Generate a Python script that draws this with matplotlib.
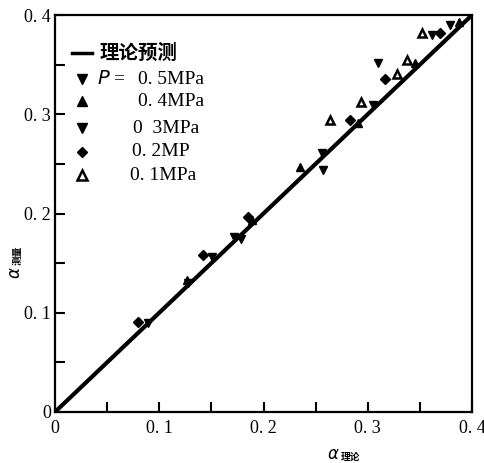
import matplotlib
matplotlib.use("Agg")
import matplotlib.pyplot as plt
from matplotlib.ticker import MultipleLocator, FixedLocator

plt.rcParams['font.family'] = ['Liberation Serif', 'Noto Sans CJK SC', 'DejaVu Sans']

# theory line
line_x = [0.0, 0.4]
line_y = [0.0, 0.4]

# measured vs theoretical, per pressure
p05_x = [0.089, 0.128, 0.172, 0.256, 0.310, 0.379]
p05_y = [0.090, 0.130, 0.176, 0.261, 0.352, 0.390]
p04_x = [0.127, 0.189, 0.235, 0.291, 0.345, 0.388]
p04_y = [0.133, 0.193, 0.247, 0.291, 0.352, 0.393]
p03_x = [0.151, 0.178, 0.257, 0.305, 0.362]
p03_y = [0.156, 0.174, 0.244, 0.309, 0.380]
p02_x = [0.080, 0.142, 0.185, 0.283, 0.317, 0.369]
p02_y = [0.091, 0.158, 0.196, 0.294, 0.336, 0.382]
p01_x = [0.264, 0.294, 0.338, 0.352, 0.328]
p01_y = [0.294, 0.312, 0.355, 0.382, 0.341]

xticks = [0, 0.1, 0.2, 0.3, 0.4]
xticklabels = ["0", "0. 1", "0. 2", "0. 3", "0. 4"]
yticklabels = ["0", "0. 1", "0. 2", "0. 3", "0. 4"]

legend_labels = ["理论预测", "0. 5MPa", "0. 4MPa", "0  3MPa", "0. 2MP", "0. 1MPa"]

fig = plt.figure(figsize=(4.85, 4.63), dpi=100)
W, H = 485, 463
L, R, T, B = 55, 472, 15, 412
ax = fig.add_axes([L / W, 1 - B / H, (R - L) / W, (B - T) / H])

ax.plot(line_x, line_y, color='black', lw=3, solid_capstyle='round', zorder=2)

ms = 6
series = [
    (p05_x, p05_y, dict(marker='v', mfc='black')),
    (p04_x, p04_y, dict(marker='^', mfc='black')),
    (p03_x, p03_y, dict(marker='v', mfc='black')),
    (p02_x, p02_y, dict(marker='D', mfc='black', ms=5)),
    (p01_x, p01_y, dict(marker='^', mfc='white', mew=1.8, ms=5.5)),
]
for xs, ys, kw in series:
    opts = dict(ls='none', color='black', mec='black', ms=ms, zorder=3)
    opts.update(kw)
    ax.plot(xs, ys, **opts)

ax.set_xlim(0, 0.4)
ax.set_ylim(0, 0.4)
ax.xaxis.set_major_locator(FixedLocator(xticks))
ax.yaxis.set_major_locator(FixedLocator(xticks))
ax.xaxis.set_minor_locator(MultipleLocator(0.05))
ax.yaxis.set_minor_locator(MultipleLocator(0.05))
ax.set_xticklabels(xticklabels, fontsize=13)
ax.set_yticklabels(yticklabels, fontsize=13)
ax.tick_params(which='both', direction='in', length=7, width=1.5,
               top=False, right=False)
ax.tick_params(axis='x', pad=6)
ax.tick_params(axis='y', pad=3)
for s in ax.spines.values():
    s.set_linewidth(1.6)

# axis labels
fig.text(340 / W, 1 - 455 / H, r"$\alpha$", fontsize=12, ha='right', va='center')
fig.text(341 / W, 1 - 457 / H, "理论", fontsize=7, fontweight='bold', ha='left', va='center',
         family=['Noto Sans CJK SC'])
fig.text(16 / W, 1 - 266 / H, r"$\alpha$", fontsize=12, ha='center', va='top', rotation=90)
fig.text(18 / W, 1 - 265 / H, "测量", fontsize=7, fontweight='bold', ha='center', va='bottom',
         rotation=90, family=['Noto Sans CJK SC'])

# legend (manual)
def fx(px):
    return px / W
def fy(py):
    return 1 - py / H

fig.add_artist(plt.Line2D([fx(72), fx(92)], [fy(53), fy(53)], color='black', lw=2.5))
fig.text(fx(100), fy(53), legend_labels[0], fontsize=14, fontweight='bold',
         va='center', ha='left', family=['Noto Sans CJK SC'])
rows = [79, 101, 128, 152, 175]
markers = [dict(marker='v', mfc='black'), dict(marker='^', mfc='black'),
           dict(marker='v', mfc='black'), dict(marker='D', mfc='black', ms=5),
           dict(marker='^', mfc='white', mew=1.8)]
text_x = [138, 138, 133, 132, 130]
for ry, mk, tx, lab in zip(rows, markers, text_x, legend_labels[1:]):
    opts = dict(ls='none', color='black', mec='black', ms=7, transform=fig.transFigure)
    opts.update(mk)
    fig.add_artist(plt.Line2D([fx(82)], [fy(ry)], **opts))
    fig.text(fx(tx), fy(ry), lab, fontsize=14, va='center', ha='left')
fig.text(fx(97), fy(79), r"$P$", fontsize=14, va='center', ha='left')
fig.text(fx(113), fy(79), "=", fontsize=14, va='center', ha='left')

fig.savefig("out.png", dpi=100)
